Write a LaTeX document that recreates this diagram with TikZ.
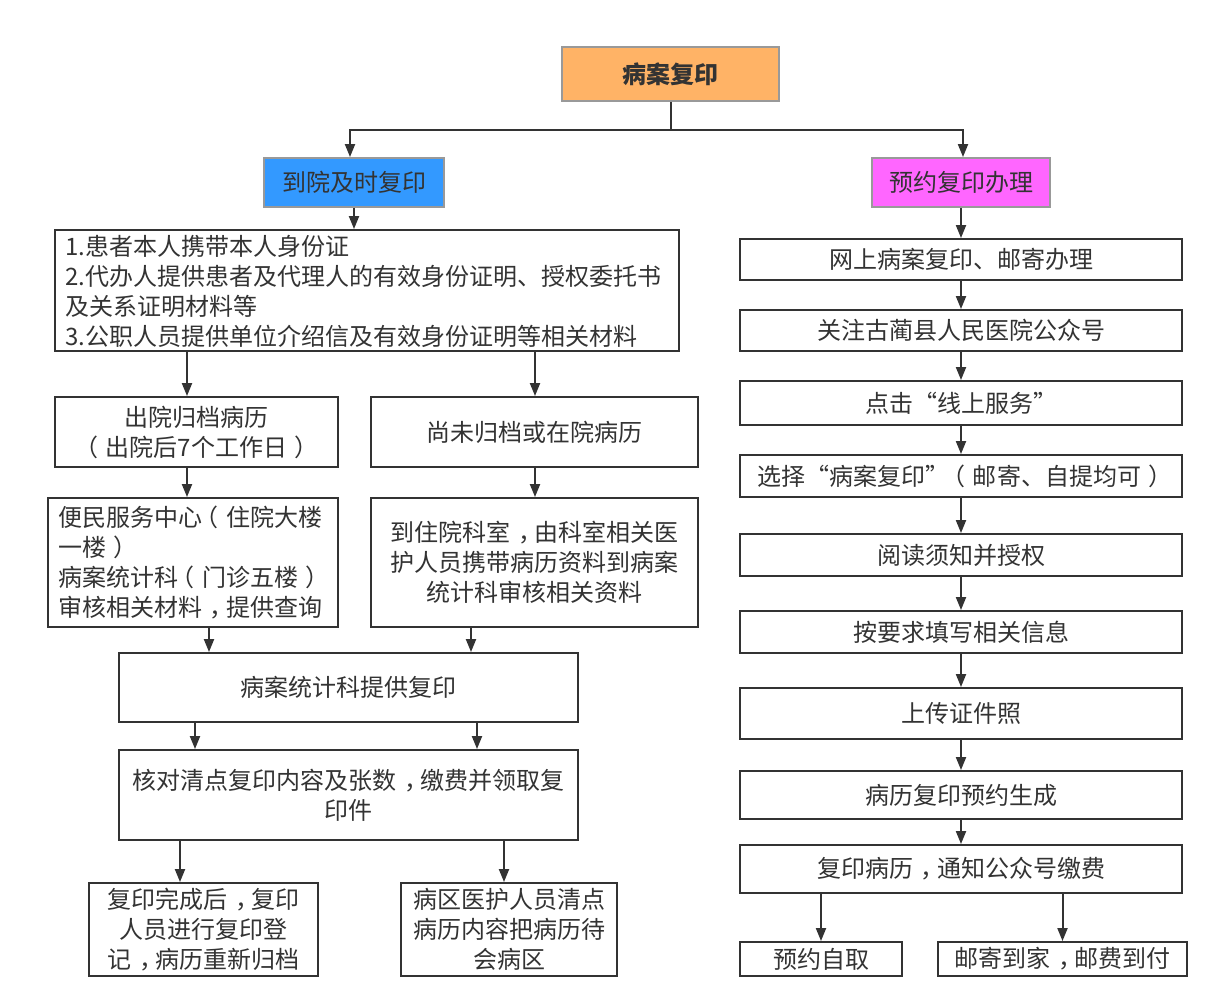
\documentclass[tikz,border=0pt]{standalone}
\usepackage{fontspec}
\setmainfont{Noto Sans CJK SC}
\usetikzlibrary{arrows.meta}
\definecolor{txt}{HTML}{333333}
\definecolor{ln}{HTML}{333333}
\definecolor{gborder}{HTML}{999999}
\definecolor{orangefill}{HTML}{FFB366}
\definecolor{bluefill}{HTML}{3399FF}
\definecolor{magfill}{HTML}{FF66FF}
\newcommand\zcm{\kern0.32em，\kern-0.32em}
\newcommand\zlp{\kern-0.3em（\kern0.3em}
\newcommand\zrp{\kern0.3em）\kern-0.3em}
\tikzset{
  box/.style={draw=ln, line width=1.9pt, text=txt, inner sep=0pt, align=center,
    font=\fontsize{24}{30}\selectfont},
  headbox/.style={draw=gborder, line width=1.9pt, text=txt, inner sep=0pt, align=center,
    font=\fontsize{24}{30}\selectfont},
  arr/.style={draw=ln, line width=2pt, -{Triangle[length=13pt,width=10pt]}},
  ln/.style={draw=ln, line width=2pt},
}
\begin{document}
\begin{tikzpicture}[x=1pt,y=-1pt]
\useasboundingbox[fill=white] (0,0) rectangle (1219,1008);
% header boxes
\node[headbox, fill=orangefill, minimum width=217pt, minimum height=54pt, font=\fontsize{24}{30}\selectfont\bfseries] (top) at (670.5,74) {病案复印};
\node[headbox, fill=bluefill, minimum width=180pt, minimum height=49pt] (blue) at (354,182.5) {到院及时复印};
\node[headbox, fill=magfill, minimum width=178pt, minimum height=49pt] (mag) at (961,182.5) {预约复印办理};
% left column
\node[box, minimum width=624pt, minimum height=121pt] (A) at (367,290.5) {};
\node[text=txt, inner sep=0pt, align=left, anchor=west, font=\fontsize{24}{30}\selectfont] (Atext) at (65,291.5) {1.患者本人携带本人身份证\\2.代办人提供患者及代理人的有效身份证明、授权委托书\\及关系证明材料等\\3.公职人员提供单位介绍信及有效身份证明等相关材料};
\node[box, minimum width=283pt, minimum height=70pt] (B1) at (196.5,432) {出院归档病历\\\zlp 出院后7个工作日\zrp};
\node[box, minimum width=327pt, minimum height=70pt] (B2) at (534.5,432) {尚未归档或在院病历};
\node[box, minimum width=290pt, minimum height=129pt] (C1) at (193,562.5) {};
\node[text=txt, inner sep=0pt, align=left, anchor=west, font=\fontsize{24}{30}\selectfont] (C1text) at (58,563) {便民服务中心\zlp 住院大楼\\一楼\zrp\\病案统计科\zlp 门诊五楼\zrp\\审核相关材料\zcm 提供查询};
\node[box, minimum width=327pt, minimum height=129pt] (C2) at (534.5,562.5) {到住院科室\zcm 由科室相关医\\护人员携带病历资料到病案\\统计科审核相关资料};
\node[box, minimum width=459pt, minimum height=69pt] (D) at (348.5,687.5) {病案统计科提供复印};
\node[box, minimum width=459pt, minimum height=90pt] (E) at (348.5,795) {核对清点复印内容及张数\zcm 缴费并领取复\\印件};
\node[box, minimum width=229pt, minimum height=93pt] (F1) at (203.5,929.5) {复印完成后\zcm 复印\\人员进行复印登\\记\zcm 病历重新归档};
\node[box, minimum width=216pt, minimum height=93pt] (F2) at (509,929.5) {病区医护人员清点\\病历内容把病历待\\会病区};
% right column
\node[box, minimum width=442pt, minimum height=41pt] (R1) at (961,259.5) {网上病案复印、邮寄办理};
\node[box, minimum width=442pt, minimum height=41pt] (R2) at (961,330.5) {关注古蔺县人民医院公众号};
\node[box, minimum width=442pt, minimum height=44pt] (R3) at (961,403) {点击“线上服务”};
\node[box, minimum width=442pt, minimum height=42pt] (R4) at (961,476) {选择“病案复印”\zlp 邮寄、自提均可\zrp};
\node[box, minimum width=442pt, minimum height=42pt] (R5) at (961,555) {阅读须知并授权};
\node[box, minimum width=442pt, minimum height=42pt] (R6) at (961,632) {按要求填写相关信息};
\node[box, minimum width=442pt, minimum height=51pt] (R7) at (961,713.5) {上传证件照};
\node[box, minimum width=442pt, minimum height=48pt] (R8) at (961,795) {病历复印预约生成};
\node[box, minimum width=442pt, minimum height=48pt] (R9) at (961,869) {复印病历\zcm 通知公众号缴费};
\node[box, minimum width=162pt, minimum height=34pt] (G1) at (821,959) {预约自取};
\node[box, minimum width=249pt, minimum height=34pt] (G2) at (1062.5,959) {邮寄到家\zcm 邮费到付};
% connectors
\coordinate (split) at (670.5,130);
\draw[ln] (top.south) -- (split);
\draw[arr] (split) -| (blue.north -| 350,0);
\draw[arr] (split) -| (mag.north -| 963,0);
\draw[arr] (blue.south) -- (A.north -| blue.south);
\draw[arr] (mag.south) -- (R1.north);
\draw[arr] (A.south -| 187,0) -- (B1.north -| 187,0);
\draw[arr] (A.south -| 535,0) -- (B2.north -| 535,0);
\draw[arr] (B1.south -| 187,0) -- (C1.north -| 187,0);
\draw[arr] (B2.south -| 535,0) -- (C2.north -| 535,0);
\draw[arr] (C1.south -| 209,0) -- (D.north -| 209,0);
\draw[arr] (C2.south -| 471,0) -- (D.north -| 471,0);
\draw[arr] (D.south -| 195,0) -- (E.north -| 195,0);
\draw[arr] (D.south -| 477,0) -- (E.north -| 477,0);
\draw[arr] (E.south -| 180,0) -- (F1.north -| 180,0);
\draw[arr] (E.south -| 504,0) -- (F2.north -| 504,0);
\draw[arr] (R1.south) -- (R2.north);
\draw[arr] (R2.south) -- (R3.north);
\draw[arr] (R3.south) -- (R4.north);
\draw[arr] (R4.south) -- (R5.north);
\draw[arr] (R5.south) -- (R6.north);
\draw[arr] (R6.south) -- (R7.north);
\draw[arr] (R7.south) -- (R8.north);
\draw[arr] (R8.south) -- (R9.north);
\draw[arr] (R9.south -| G1.north) -- (G1.north);
\draw[arr] (R9.south -| G2.north) -- (G2.north);
\end{tikzpicture}
\end{document}
